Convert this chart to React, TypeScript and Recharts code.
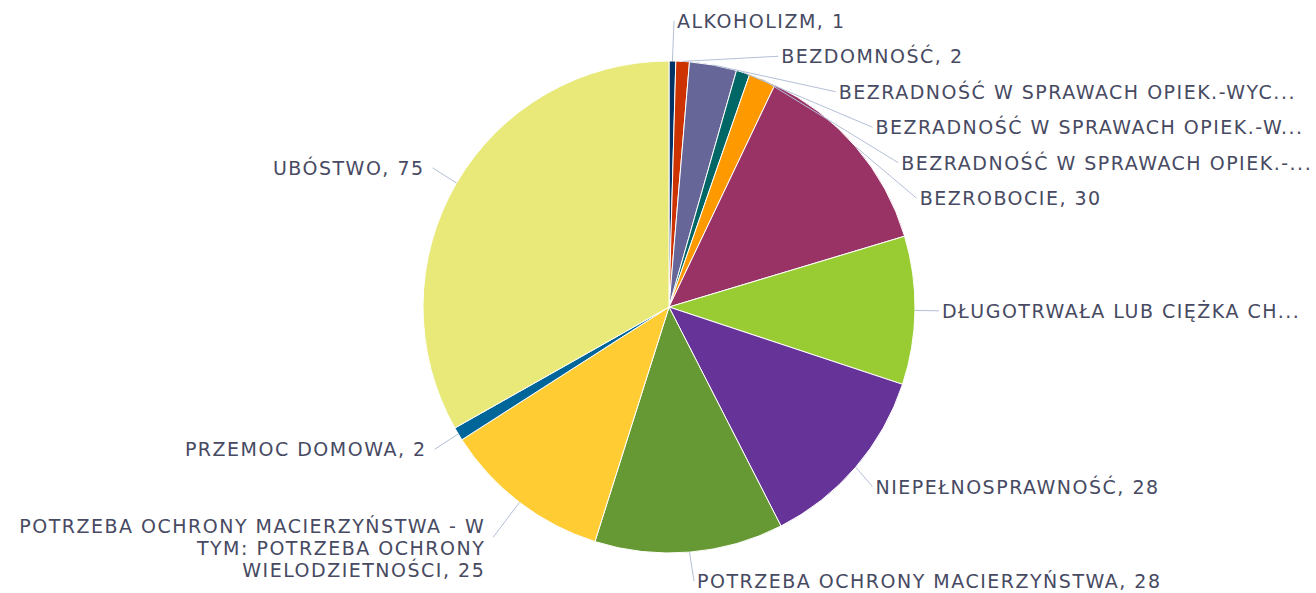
import { PieChart, Pie, Cell } from "recharts";

// Reasons for granting assistance — pie with outside labels and connectors.

const categories = [
  "ALKOHOLIZM",
  "BEZDOMNOŚĆ",
  "BEZRADNOŚĆ W SPRAWACH OPIEK.-WYC...",
  "BEZRADNOŚĆ W SPRAWACH OPIEK.-W...",
  "BEZRADNOŚĆ W SPRAWACH OPIEK.-...",
  "BEZROBOCIE",
  "DŁUGOTRWAŁA LUB CIĘŻKA CH...",
  "NIEPEŁNOSPRAWNOŚĆ",
  "POTRZEBA OCHRONY MACIERZYŃSTWA",
  "POTRZEBA OCHRONY MACIERZYŃSTWA - W TYM: POTRZEBA OCHRONY WIELODZIETNOŚCI",
  "PRZEMOC DOMOWA",
  "UBÓSTWO",
];

const values = [1, 2, 7, 2, 4, 30, 22, 28, 28, 25, 2, 75];

const colors = [
  "#003366",
  "#CC3300",
  "#666699",
  "#006666",
  "#FF9900",
  "#993366",
  "#99CC33",
  "#663399",
  "#669933",
  "#FFCC33",
  "#006699",
  "#E9E97A",
];

const W = 1316;
const H = 593;
const CX = 669;
const CY = 307;
const R = 246;
const DIST = 30;
const LINE_H = 22;
const BOX = 35.5;
const RAD = Math.PI / 180;
const FONT = "'DejaVu Sans', sans-serif";

const data = categories.map((name, i) => ({ name, value: values[i] }));

function wrap(text: string, max: number): string[] {
  const words = text.split(" ");
  const lines: string[] = [];
  let cur = "";
  for (const w of words) {
    if (cur && (cur + " " + w).length > max) {
      lines.push(cur);
      cur = w;
    } else {
      cur = cur ? cur + " " + w : w;
    }
  }
  if (cur) lines.push(cur);
  return lines;
}

function labelLines(i: number): string[] {
  const name = categories[i];
  if (name.endsWith("...")) return [name];
  return wrap(`${name}, ${values[i]}`, 34);
}

type Item = { idx: number; target: number; size: number; off: number };

// Highcharts-like distribution: overlapping boxes get merged and centred on their targets.
function distribute(items: Item[], min: number, max: number): number[] {
  const place = (g: { want: number; size: number }) =>
    Math.min(Math.max(g.want, min), max - g.size);
  let groups = items.map((it, k) => ({ members: [k], size: it.size, want: it.target - it.off }));
  let merged = true;
  while (merged) {
    merged = false;
    for (let k = 0; k < groups.length - 1; k++) {
      const a = groups[k];
      const b = groups[k + 1];
      if (place(a) + a.size > place(b)) {
        const members = [...a.members, ...b.members];
        let o = 0;
        let sum = 0;
        for (const m of members) {
          sum += items[m].target - items[m].off - o;
          o += items[m].size;
        }
        groups.splice(k, 2, { members, size: a.size + b.size, want: sum / members.length });
        merged = true;
        break;
      }
    }
  }
  const out: number[] = new Array(items.length);
  for (const g of groups) {
    let t = place(g);
    for (const m of g.members) {
      out[m] = t + items[m].off;
      t += items[m].size;
    }
  }
  return out;
}

function computeLayout() {
  const total = values.reduce((s, v) => s + v, 0);
  let acc = 0;
  const mids = values.map((v) => {
    const m = ((acc + v / 2) / total) * 360;
    acc += v;
    return m;
  });
  const ys: number[] = new Array(values.length);
  const sides = mids.map((m) => (m < 180 ? 1 : -1));
  for (const side of [1, -1]) {
    const items: Item[] = mids
      .map((m, idx) => ({ m, idx }))
      .filter((o) => sides[o.idx] === side)
      .map(({ m, idx }) => {
        const n = labelLines(idx).length;
        return {
          idx,
          target: CY - (R + DIST) * Math.cos(m * RAD),
          size: BOX + (n - 1) * LINE_H,
          off: BOX / 2,
        };
      })
      .sort((a, b) => a.target - b.target);
    const pos = distribute(items, 3, H + 6);
    items.forEach((it, k) => (ys[it.idx] = pos[k]));
  }
  return { ys, sides };
}

const layout = computeLayout();

function renderLabel(p: any) {
  const i = p.index as number;
  const cx = p.cx as number;
  const cy = p.cy as number;
  const r = p.outerRadius as number;
  const ang = -(p.midAngle as number) * RAD;
  const ex = cx + r * Math.cos(ang);
  const ey = cy + r * Math.sin(ang);
  const y = layout.ys[i];
  const side = layout.sides[i];
  const dy = y - cy;
  const s = Math.sqrt(Math.max(0, (r + DIST) * (r + DIST) - dy * dy));
  const lines = labelLines(i);
  const multi = lines.length > 1;
  let tx: number;
  let lx: number;
  if (side === 1) {
    tx = Math.max(cx + s - 3, cx + 8);
    lx = tx - 3;
  } else {
    tx = Math.min(cx - s - 6, cx - 8) - (multi ? 10 : 0);
    lx = tx + 8;
  }
  const ly = multi ? y + LINE_H / 2 : y;
  return (
    <g key={`lbl-${i}`}>
      <path d={`M${ex},${ey}L${lx},${ly}`} stroke="#B4C0D6" strokeWidth={1} fill="none" />
      <text
        x={tx}
        y={y}
        textAnchor={side === 1 ? "start" : "end"}
        fill="#474A62"
        fontSize={19}
        letterSpacing={1.5}
        fontFamily={FONT}
      >
        {lines.map((ln, k) => (
          <tspan key={k} x={tx} dy={k === 0 ? 7 : LINE_H}>
            {ln}
          </tspan>
        ))}
      </text>
    </g>
  );
}

export default function App() {
  return (
    <div style={{ position: "absolute", left: 0, top: 0, width: W, height: H, background: "#fff" }}>
      <PieChart width={W} height={H} margin={{ top: 0, right: 0, bottom: 0, left: 0 }}>
        <Pie
          data={data}
          dataKey="value"
          nameKey="name"
          cx={CX}
          cy={CY}
          outerRadius={R}
          startAngle={90}
          endAngle={-270}
          stroke="#ffffff"
          strokeWidth={1}
          label={renderLabel}
          labelLine={false}
          isAnimationActive={false}
        >
          {data.map((d, i) => (
            <Cell key={d.name} fill={colors[i]} />
          ))}
        </Pie>
      </PieChart>
    </div>
  );
}
